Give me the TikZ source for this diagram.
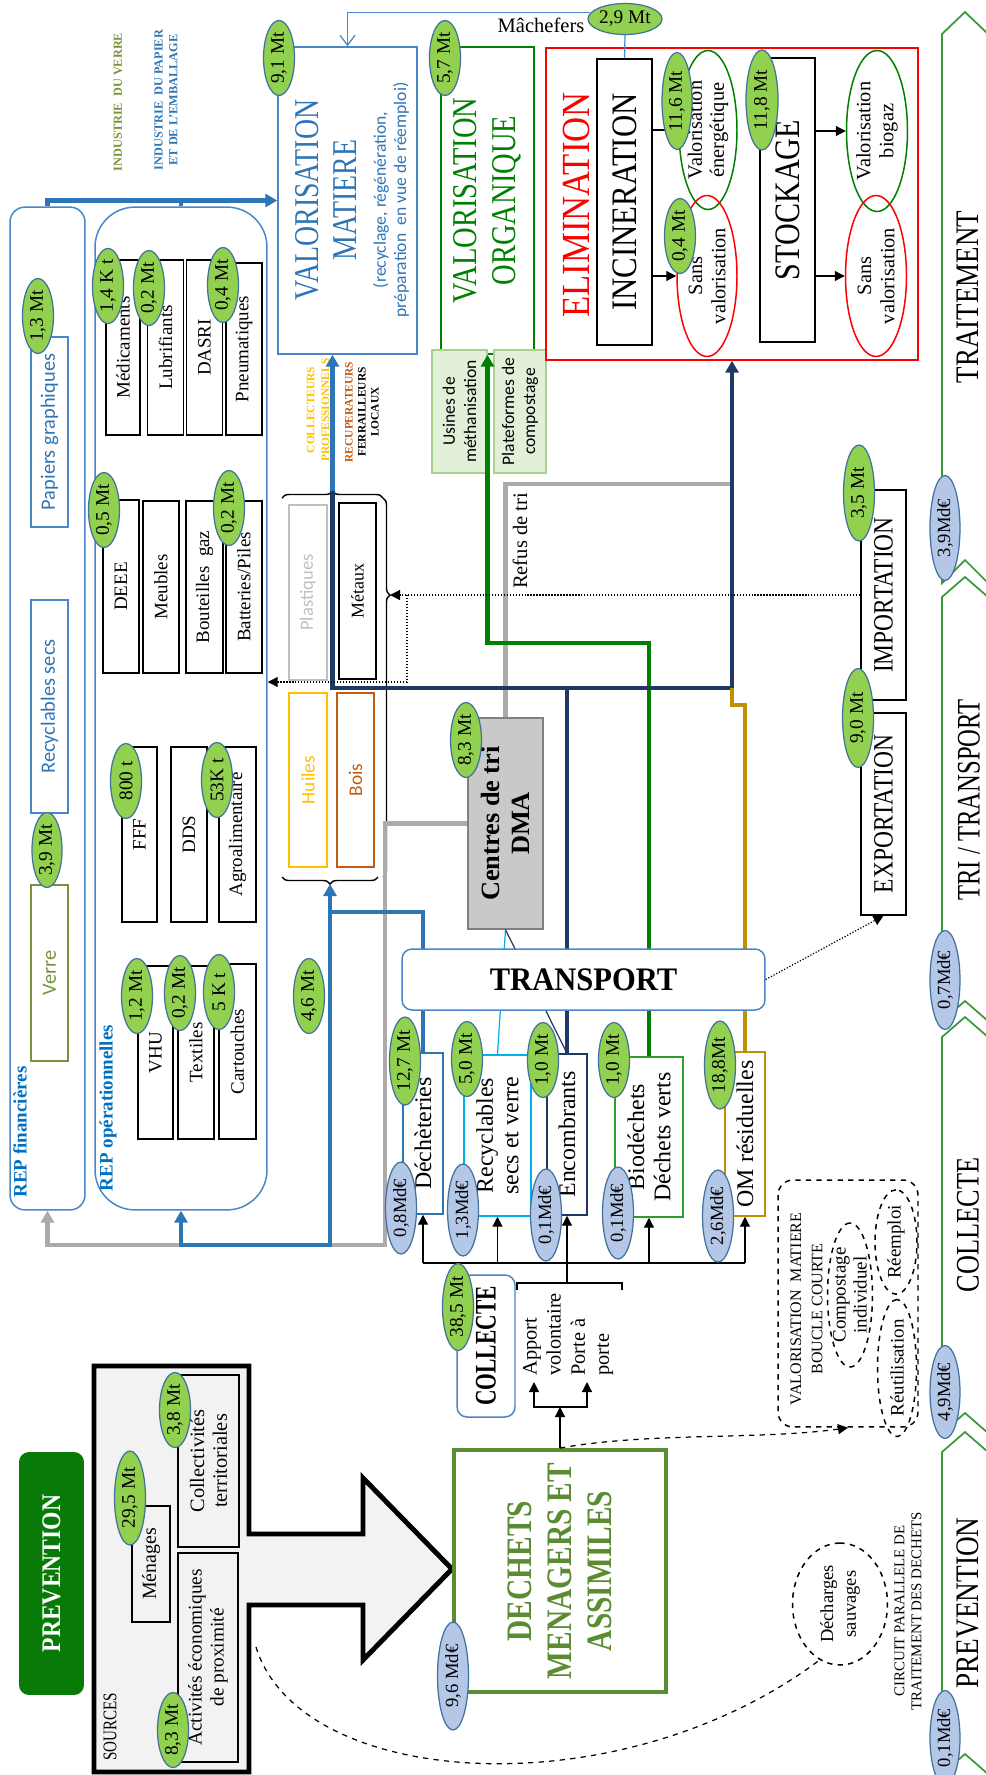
\documentclass[tikz,border=0pt]{standalone}
\usepackage{fontspec}
\usepackage{graphicx}
\setmainfont{Liberation Serif}
\newfontfamily\calib{Carlito}
\usetikzlibrary{shapes.geometric,arrows.meta,decorations.pathreplacing,positioning}

\definecolor{ellgreen}{HTML}{92D050}
\definecolor{ellblue}{HTML}{B4C7E7}
\definecolor{ellline}{HTML}{41719C}
\definecolor{flowblue}{HTML}{2E75B6}
\definecolor{boxblue}{HTML}{4A86C8}
\definecolor{repblue}{HTML}{0070C0}
\definecolor{orggreen}{HTML}{008000}
\definecolor{biogreen}{HTML}{2E9E2E}
\definecolor{navy}{HTML}{203864}
\definecolor{ochre}{HTML}{BF9000}
\definecolor{cyanline}{HTML}{00B0F0}
\definecolor{refus}{HTML}{AEAAAA}
\definecolor{huile}{HTML}{FFC000}
\definecolor{boisc}{HTML}{C55A11}
\definecolor{olive}{HTML}{77933C}
\definecolor{dmagreen}{HTML}{5B8C32}
\definecolor{chev}{HTML}{3A9A3A}
\definecolor{prevgreen}{HTML}{077A07}
\definecolor{trigray}{HTML}{C9C9C9}
\definecolor{srcgray}{HTML}{F2F2F2}
\definecolor{usinefill}{HTML}{E2F0D9}
\definecolor{usineline}{HTML}{A9D18E}
\definecolor{plast}{HTML}{BFBFBF}

\newcommand{\fs}[2]{\fontsize{#1}{#2}\selectfont}
\newcommand{\squeeze}[2]{\scalebox{#1}[1]{#2}}

\tikzset{
  lbl/.style={rotate=90, inner sep=0pt, align=center},
  bx/.style={lbl, draw, line width=0.85pt},
  repbox/.style={bx, minimum height=0.72cm, font=\fs{10.8}{12}},
  colbox/.style={bx, minimum width=3.22cm, minimum height=0.8cm, font=\fs{13.6}{15}},
  valg/.style={ellipse, rotate=90, draw=ellline, fill=ellgreen, line width=0.7pt, inner sep=0pt, minimum width=1.5cm, minimum height=0.62cm, font=\fs{11}{12}},
  valb/.style={valg, fill=ellblue, minimum width=1.84cm, font=\fs{10.6}{12}},
  outl/.style={ellipse, rotate=90, draw, line width=0.85pt, inner sep=0pt, align=center},
  flow/.style={line width=2.3pt, -{Triangle[length=0.24cm,width=0.26cm]}},
  flowline/.style={line width=2.3pt},
  arr/.style={line width=0.7pt, -{Triangle[length=0.2cm,width=0.2cm]}},
  dots/.style={densely dotted, line width=0.7pt, -{Triangle[length=0.2cm,width=0.2cm]}},
  brc/.style={decorate, decoration={brace, amplitude=0.14cm}, line width=0.8pt},
  chevron/.style={draw=chev, line width=1pt},
  stage/.style={lbl, font=\fs{18.7}{20}}
}

\begin{document}
\begin{tikzpicture}[x=0.02cm, y=-0.02cm]
\useasboundingbox (0,0) rectangle (985,1775);

% etapes
\draw[chevron] (942,34) -- (965,12) -- (988,34) -- (988,583) -- (965,560) -- (942,583) -- cycle;
\draw[chevron] (942,597) -- (965,577) -- (988,597) -- (988,1021) -- (965,1001) -- (942,1021) -- cycle;
\draw[chevron] (942,1037) -- (965,1017) -- (988,1037) -- (988,1433) -- (965,1413) -- (942,1433) -- cycle;
\draw[chevron] (942,1452) -- (965,1432) -- (988,1452) -- (988,1774) -- (965,1754) -- (942,1774) -- cycle;
\node[stage] (ttrait) at (968,297) {\squeeze{.82}{TRAITEMENT}};
\node[stage] (ttri) at (969,800) {\squeeze{.75}{TRI / TRANSPORT}};
\node[stage] (tcoll) at (968,1225) {\squeeze{.8}{COLLECTE}};
\node[stage] (tprev) at (968,1603) {\squeeze{.83}{PREVENTION}};

% valorisation et elimination
\node[bx, draw=boxblue, minimum width=6.14cm, minimum height=2.78cm] (vm) at (347.5,200.5) {};
\node[lbl, text=flowblue, font=\fs{19.8}{22}] (vmtitle) at (326,200) {\squeeze{.8}{VALORISATION}\\\squeeze{.8}{MATIERE}};
\node[lbl, text=flowblue, font=\calib\fs{10}{11.4}] (vmsub) at (391,200) {(recyclage, régénération,\\préparation\ \ en vue de réemploi)};
\node[bx, draw=orggreen, minimum width=6.14cm, minimum height=1.86cm, text=orggreen, font=\fs{19.8}{22.1}] (org) at (487.5,200.5) {\squeeze{.82}{VALORISATION}\\\squeeze{.82}{ORGANIQUE}};
\node[bx, draw=usineline, fill=usinefill, minimum width=2.46cm, minimum height=1.1cm, font=\calib\fs{10}{12}] (usine) at (459.5,411.5) {Usines de\\méthanisation};
\node[bx, draw=usineline, fill=usinefill, minimum width=2.46cm, minimum height=1.04cm, font=\calib\fs{10}{12}] (plat) at (520,411.5) {Plateformes de\\compostage};
\node[bx, draw=red, minimum width=6.24cm, minimum height=7.44cm] (elim) at (732,204) {};
\node[lbl, text=red, font=\fs{22.7}{25}] (elimtitle) at (576,205) {\squeeze{.87}{ELIMINATION}};
\node[bx, minimum width=5.72cm, minimum height=1.1cm, font=\fs{20.4}{22}] (incin) at (624.5,202) {\squeeze{.86}{INCINERATION}};
\node[bx, minimum width=5.68cm, minimum height=1.1cm, font=\fs{20.4}{22}] (stock) at (787.5,200) {\squeeze{.84}{STOCKAGE}};
\node[outl, draw=orggreen, minimum width=3.18cm, minimum height=1.16cm, font=\fs{11.6}{12.5}] (venerg) at (708,130) {Valorisation\\énergétique};
\node[outl, draw=red, minimum width=3.22cm, minimum height=1.2cm, font=\fs{11.6}{13.2}] (sans1) at (707,276) {Sans\\valorisation};
\node[outl, draw=orggreen, minimum width=3.22cm, minimum height=1.22cm, font=\fs{11.6}{13}] (vbio) at (877,131) {Valorisation\\biogaz};
\node[outl, draw=red, minimum width=3.22cm, minimum height=1.22cm, font=\fs{11.6}{13.2}] (sans2) at (876,276) {Sans\\valorisation};
\node[valg, rotate=-90, minimum width=1.48cm] (g29) at (625,19) {2,9 Mt};
\node[lbl, rotate=-90, font=\fs{11.7}{13}] (mach) at (541,25) {Mâchefers};

% filieres REP
\node[bx, draw=boxblue, rounded corners=0.3cm, minimum width=20.06cm, minimum height=1.5cm] (repfin) at (47.5,708.5) {};
\node[bx, draw=boxblue, rounded corners=0.8cm, minimum width=20.06cm, minimum height=3.44cm] (repop) at (181,708.5) {};
\node[lbl, text=repblue, font=\bfseries\fs{10.8}{12}] (repfinlbl) at (20,1132) {REP financières};
\node[lbl, text=repblue, font=\bfseries\fs{10.8}{12}] (repoplbl) at (108,1108) {REP opérationnelles};
\node[lbl, text=olive, font=\bfseries\fs{7}{8.5}] (indverre) at (118,102) {INDUSTRIE\ \ DU VERRE};
\node[lbl, text=flowblue, font=\bfseries\fs{7}{8.5}] (indpap) at (166,100) {INDUSTRIE\ \ DU PAPIER\\ET DE L'EMBALLAGE};
\node[bx, draw=boxblue, text=flowblue, minimum width=3.8cm, minimum height=0.74cm, font=\calib\fs{11.6}{13}] (pap) at (49.5,432) {Papiers graphiques};
\node[bx, draw=boxblue, text=flowblue, minimum width=4.26cm, minimum height=0.74cm, font=\calib\fs{11.6}{13}] (recs) at (49.5,706.5) {Recyclables secs};
\node[bx, draw=olive, text=olive, minimum width=3.52cm, minimum height=0.74cm, font=\calib\fs{11.6}{13}] (verre) at (49.5,973) {Verre};
\node[repbox, minimum width=3.5cm, minimum height=0.68cm] (med) at (123,347.5) {Médicaments};
\node[repbox, minimum width=3.5cm] (lub) at (165.5,347.5) {Lubrifiants};
\node[repbox, minimum width=3.5cm] (dasri) at (204.5,347.5) {DASRI};
\node[repbox, minimum width=3.44cm] (pneu) at (244,349) {Pneumatiques};
\node[repbox, minimum width=3.46cm] (deee) at (121,586.5) {DEEE};
\node[repbox, minimum width=3.44cm] (meub) at (161,587) {Meubles};
\node[repbox, minimum width=3.44cm, minimum height=0.74cm] (bout) at (204.5,587) {Bouteilles\ \ gaz};
\node[repbox, minimum width=3.44cm] (batt) at (244,587) {Batteries/Piles};
\node[repbox, minimum width=3.5cm, minimum height=0.7cm] (fff) at (139.5,834.5) {FFF};
\node[repbox, minimum width=3.5cm] (dds) at (189,834.5) {DDS};
\node[repbox, minimum width=3.5cm, minimum height=0.74cm] (agro) at (237.5,834.5) {Agroalimentaire};
\node[repbox, minimum width=3.46cm, minimum height=0.7cm] (vhu) at (155.5,1052.5) {VHU};
\node[repbox, minimum width=3.46cm] (texti) at (196,1052.5) {Textiles};
\node[repbox, minimum width=3.5cm, minimum height=0.74cm] (cart) at (237.5,1051.5) {Cartouches};

% recuperateurs
\node[bx, draw=plast, text=plast, minimum width=3.5cm, minimum height=0.76cm, font=\calib\fs{10.6}{12}] (plast) at (308,592.5) {Plastiques};
\node[bx, minimum width=3.52cm, minimum height=0.74cm, font=\fs{10.2}{12}] (met) at (357.5,591) {Métaux};
\node[bx, draw=huile, text=huile, minimum width=3.48cm, minimum height=0.76cm, font=\calib\fs{11}{12}] (huil) at (308,780) {Huiles};
\node[bx, draw=boisc, text=boisc, minimum width=3.48cm, minimum height=0.74cm, font=\calib\fs{11}{12}] (bois) at (355.5,780) {Bois};
\node[lbl, text=huile, font=\bfseries\fs{6.5}{8.5}] (collpro) at (318,410) {COLLECTEURS\\PROFESSIONNELS};
\node[lbl, font=\bfseries\fs{6.5}{7.4}] (recup) at (362,412) {\textcolor{boisc}{RECUPERATEURS}\\FERRAILLEURS\\LOCAUX};
\draw[brc] (282,498) -- (383,498);
\draw[brc, decoration={aspect=0.256}] (383,498) -- (383,877);
\draw[brc] (378,877) -- (282,877);
\coordinate (tbr) at (332.5,491);
\coordinate (rbr) at (390,595);
\coordinate (bbr) at (330,884);

% tri, import, export
\node[bx, draw=gray, fill=trigray, minimum width=4.22cm, minimum height=1.5cm, font=\bfseries\fs{15}{17.5}] (ctri) at (505.5,823.5) {Centres de tri\\DMA};
\node[lbl, font=\fs{11.7}{13}] (refuslbl) at (520,541) {Refus de tri};
\node[bx, minimum width=4.2cm, minimum height=0.9cm, font=\fs{15.9}{17}] (imp) at (883.5,595) {\squeeze{.84}{IMPORTATION}};
\node[bx, minimum width=4.04cm, minimum height=0.9cm, font=\fs{15.9}{17}] (exp) at (883.5,814) {\squeeze{.84}{EXPORTATION}};

% collecte
\node[colbox, draw=flowblue] (dech) at (423,1133.5) {Déchèteries};
\node[colbox, draw=cyanline, minimum height=1.34cm, font=\fs{13.6}{14.5}] (recy) at (497.5,1135.5) {Recyclables\\secs et verre};
\node[colbox, draw=navy] (enc) at (567,1134.5) {Encombrants};
\node[colbox, draw=biogreen, minimum height=1.36cm, minimum width=3.2cm] (bio) at (649,1137) {Biodéchets\\Déchets verts};
\node[colbox, draw=ochre, minimum width=3.28cm] (om) at (745,1134) {OM résiduelles};
\node[bx, draw=boxblue, rounded corners=0.2cm, minimum width=2.84cm, minimum height=1.16cm, font=\bfseries\fs{17}{19}] (coll) at (486,1346) {\squeeze{.72}{COLLECTE}};
\node[lbl, anchor=west, align=left, font=\fs{11.6}{13.6}] (apport) at (542,1376) {Apport\\volontaire};
\node[lbl, anchor=west, align=left, font=\fs{11.6}{13.6}] (porte) at (592,1376) {Porte à\\porte};

% sources et dechets
\draw[line width=2.8pt, fill=srcgray] (94,1366) -- (249,1366) -- (249,1534) -- (363,1534) -- (363,1478) -- (452,1569) -- (363,1660) -- (363,1605) -- (249,1605) -- (249,1772) -- (94,1772) -- cycle;
\node[lbl, font=\fs{11}{12}] (srclbl) at (110,1727) {\squeeze{.78}{SOURCES}};
\node[bx, line width=0.7pt, minimum width=2.32cm, minimum height=0.76cm, font=\fs{11.3}{13}] (men) at (151,1564) {Ménages};
\node[bx, line width=0.7pt, minimum width=3.44cm, minimum height=1.22cm, font=\fs{11.6}{13}] (colt) at (208.5,1461) {Collectivités\\territoriales};
\node[bx, line width=0.7pt, minimum width=4.18cm, minimum height=1.2cm, font=\fs{11}{12.5}] (act) at (208,1657.5) {Activités économiques\\de proximité};
\node[bx, draw=none, fill=prevgreen, rounded corners=0.2cm, minimum width=4.86cm, minimum height=1.3cm, text=white, font=\bfseries\fs{15.3}{17}] (prev) at (51.5,1573.5) {\squeeze{.88}{PREVENTION}};
\node[bx, draw=dmagreen, line width=2.3pt, minimum width=4.84cm, minimum height=4.24cm, text=dmagreen, font=\bfseries\fs{20.4}{22.7}] (dma) at (560,1571) {\squeeze{.82}{DECHETS}\\\squeeze{.82}{MENAGERS ET}\\\squeeze{.82}{ASSIMILES}};

% circuits paralleles
\node[bx, dashed, rounded corners=0.3cm, minimum width=4.94cm, minimum height=2.8cm] (boucle) at (848,1303.5) {};
\node[lbl, font=\fs{9.1}{12}] (bouclelbl) at (806.5,1309) {VALORISATION\ \ MATIERE\\BOUCLE COURTE};
\node[outl, dashed, inner sep=-3pt, minimum width=2.88cm, minimum height=0.9cm, font=\fs{10.8}{12}] (comp) at (850,1295) {Compostage\\individuel};
\node[outl, dashed, minimum width=1.86cm, minimum height=0.84cm, font=\fs{10.8}{12}] (reem) at (896,1242) {Réemploi};
\node[outl, dashed, minimum width=2.34cm, minimum height=0.78cm, font=\fs{10.8}{12}] (reut) at (897,1368) {Réutilisation};
\node[outl, dashed, minimum width=2.44cm, minimum height=1.9cm, font=\fs{10.5}{13}] (decharge) at (840,1604) {Décharges\\sauvages};
\node[lbl, font=\fs{8.5}{9.6}] (circuit) at (908,1611) {CIRCUIT PARALLELE DE\\TRAITEMENT DES DECHETS};

% flux
\draw[line width=0.7pt, boxblue, -{Straight Barb[length=0.2cm,width=0.3cm]}] (g29.170) -| (vm.east);
\draw[line width=0.7pt, boxblue] (g29.south) -- (incin.east);
\draw[arr] (incin.south |- venerg.center) -- (venerg.north);
\draw[arr] (incin.south |- sans1.center) -- (sans1.north);
\draw[arr] (stock.south |- vbio.center) -- (vbio.north);
\draw[arr] (stock.south |- sans2.center) -- (sans2.north);
\draw[flow, flowblue] (repfin.east) |- (vm.north);
\draw[flowline, flowblue] (repop.east) -- (repop.east |- vm.north);
\draw[flow, refus] (ctri.north) -| (385,1245) -| (repfin.west);
\draw[flowline, flowblue] (dech.east) |- (330,912);
\draw[flow, flowblue] (330,912) -- (bbr);
\draw[flow, flowblue] (330,912) -- (330,1245) -| (repop.west);
\draw[flowline, refus] (ctri.east) |- (732,484);
\draw[flow, orggreen] (bio.east) |- (org.west |- 0,643) -- (org.west);
\draw[flow, flowblue] (tbr) -- (tbr |- vm.west);
\draw[flowline, navy] (enc.east) -- (enc.east |- 0,688);
\draw[flow, navy] (tbr) -- (332.5,688) -| (elim.west);
\draw[flowline, ochre] (om.east) |- (732,705) -- (732,688);
\draw[cyanline, line width=0.7pt] (ctri.west) -- (recy.east);
\draw[navy, line width=0.7pt] (ctri.west) -- (enc.east);
\draw[dots] (imp.north) -- (rbr);
\draw[densely dotted, line width=0.7pt] (407,595) -- (407,682);
\draw[dots] (407,682) -- (repop.south |- 0,682);
\draw[line width=0.7pt] (423,1263) -- (745,1263);
\draw[arr] (423,1263) -- (dech.west);
\draw[arr] (497.5,1263) -- (recy.west);
\draw[arr] (649,1263) -- (bio.west);
\draw[arr] (745,1263) -- (om.west);
\draw[arr] (567,1283) -- (enc.west);
\draw[line width=0.7pt] (517,1290) -- (517,1283) -- (622,1283) -- (622,1290);
\draw[arr] (dma.east) -- (560,1407);
\draw[line width=0.7pt, {Triangle[length=0.2cm,width=0.2cm]}-{Triangle[length=0.2cm,width=0.2cm]}] (534,1382) |- (560,1407) -| (587,1382);
\draw[dashed, line width=0.7pt, -{Triangle[length=0.2cm,width=0.2cm]}] (dma.east) .. controls (650,1432) and (760,1440) .. (boucle.west);
\draw[dashed, line width=0.7pt] (256,1647) .. controls (300,1790) and (620,1810) .. (decharge.160);

\node[draw=boxblue, line width=0.85pt, rounded corners=0.2cm, fill=white, minimum width=7.26cm, minimum height=1.22cm, inner sep=0pt, font=\bfseries\fs{18.7}{20}] (transport) at (583.5,979.5) {\squeeze{.93}{TRANSPORT}};
\draw[dots] (transport.east) -- (exp.west);

% tonnages et couts
\node[valg] (g91) at (279,58) {9,1 Mt};
\node[valg] (g57) at (445,58) {5,7 Mt};
\node[valg, minimum width=1.94cm, minimum height=0.6cm] (g116) at (677,101) {11,6 Mt};
\node[valg] (g04) at (680,236) {0,4 Mt};
\node[valg, minimum width=2cm, minimum height=0.64cm] (g118) at (762,100) {11,8 Mt};
\node[valg] (g13) at (38,316) {1,3 Mt};
\node[valg] (g14k) at (108,286) {1,4 K t};
\node[valg] (g02a) at (149,288) {0,2 Mt};
\node[valg] (g04b) at (223,285) {0,4 Mt};
\node[valg] (g05) at (104,510) {0,5 Mt};
\node[valg] (g02b) at (229,508) {0,2 Mt};
\node[valg, minimum height=0.6cm] (g39) at (47,850) {3,9 Mt};
\node[valg] (g800) at (126,781) {800 t};
\node[valg] (g53k) at (217,780) {53K t};
\node[valg] (g12) at (137,996) {1,2 Mt};
\node[valg] (g02c) at (180,993) {0,2 Mt};
\node[valg] (g5k) at (219,992) {5 K t};
\node[valg] (g46) at (309,996) {4,6 Mt};
\node[valg] (g83a) at (466,740) {8,3 Mt};
\node[valg, minimum width=1.92cm] (g35) at (859,493) {3,5 Mt};
\node[valg, minimum width=1.98cm] (g90) at (858,718) {9,0 Mt};
\node[valg, minimum width=1.76cm] (g127) at (405,1061) {12,7 Mt};
\node[valg] (g50) at (467,1059) {5,0 Mt};
\node[valg] (g10a) at (543,1060) {1,0 Mt};
\node[valg] (g10b) at (614,1060) {1,0 Mt};
\node[valg, minimum width=1.76cm] (g188) at (720,1065) {18,8Mt};
\node[valg, minimum width=1.74cm] (g385) at (458,1307) {38,5 Mt};
\node[valg, minimum width=1.88cm] (g295) at (130,1498) {29,5 Mt};
\node[valg] (g38) at (175,1410) {3,8 Mt};
\node[valg] (g83b) at (173,1730) {8,3 Mt};
\node[valb] (b08) at (401,1208) {0,8Md€};
\node[valb] (b13) at (463,1210) {1,3Md€};
\node[valb] (b01a) at (546,1215) {0,1Md€};
\node[valb] (b01b) at (618,1213) {0,1Md€};
\node[valb] (b26) at (718,1216) {2,6Md€};
\node[valb, minimum width=2.16cm] (b96) at (453,1676) {9,6 Md€};
\node[valb, minimum width=2.1cm, minimum height=0.6cm] (b39) at (945,528) {3,9Md€};
\node[valb, minimum width=1.98cm, minimum height=0.6cm] (b07) at (945,980) {0,7Md€};
\node[valb, minimum width=1.86cm, minimum height=0.6cm] (b49) at (945,1392) {4,9Md€};
\node[valb, minimum width=1.9cm, minimum height=0.6cm] (b01c) at (945,1738) {0,1Md€};
\end{tikzpicture}
\end{document}
